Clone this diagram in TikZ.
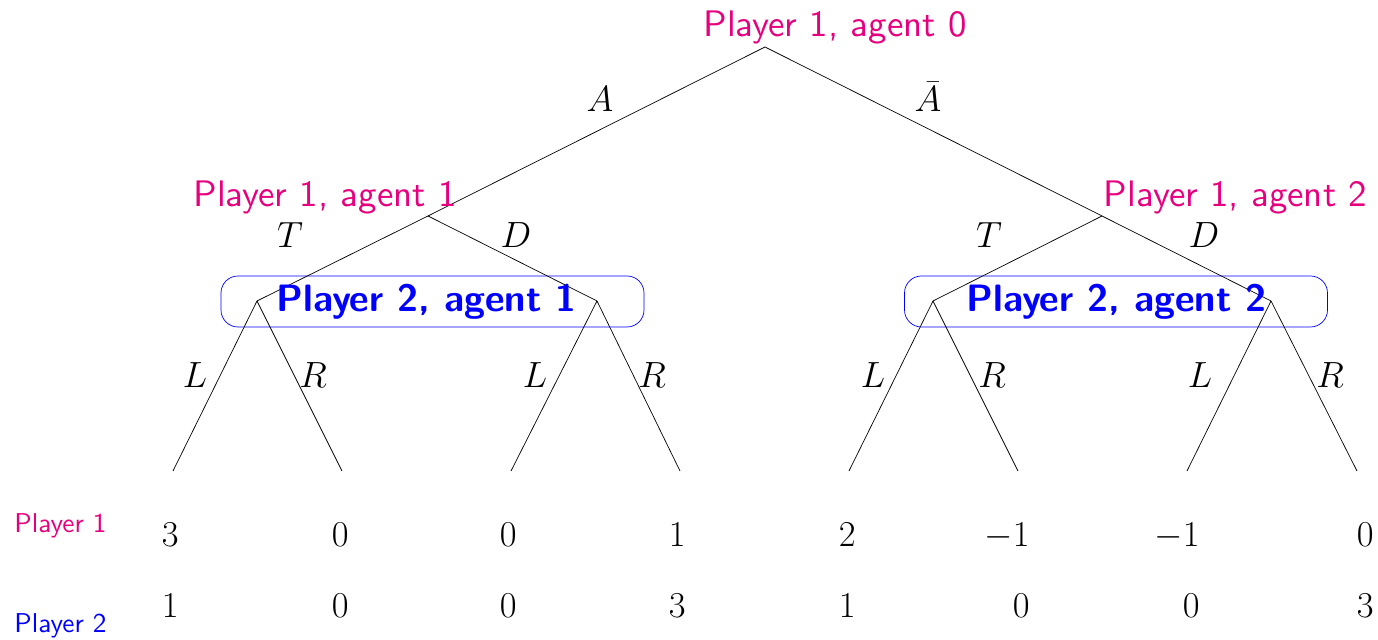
\documentclass[tikz,border=0pt]{standalone}
\usepackage{fontspec}
\setsansfont{lmsans10-regular.otf}[BoldFont=lmsans10-bold.otf]
\usepackage{tikz}
\definecolor{AgentPink}{HTML}{E6007E}
\definecolor{AgentBlue}{HTML}{0000FF}
\tikzset{agentlab/.style={text=AgentPink,font=\fontsize{21}{25}\sffamily,inner sep=0pt,anchor=base},
  movelab/.style={font=\fontsize{21}{25}\selectfont,inner sep=0pt,anchor=base},
  infoset/.style={draw=AgentBlue,rounded corners=0.34cm,minimum width=8.46cm,minimum height=1.02cm,inner sep=0pt},
  setlab/.style={text=AgentBlue,font=\fontsize{21.7}{25}\sffamily\bfseries,inner sep=0pt,anchor=base},
  payoff/.style={font=\fontsize{21}{25}\selectfont,inner sep=0pt,anchor=base east},
  rowlab/.style={font=\fontsize{15.5}{18}\sffamily,inner sep=0pt,anchor=base west}}

\begin{document}
\begin{tikzpicture}[x=1cm,y=1cm]
\useasboundingbox (0,0) rectangle (27.56,12.8);
% information sets of player 2
\node[infoset] (set1) at (8.65,6.77) {};
\node[infoset] (set2) at (22.32,6.77) {};
% tree
\coordinate (root) at (15.30,11.86);
\coordinate (a1) at (8.56,8.48); \coordinate (a2) at (22.04,8.48);
\coordinate (b1) at (5.14,6.78); \coordinate (b2) at (11.94,6.78);
\coordinate (b3) at (18.66,6.78); \coordinate (b4) at (25.42,6.78);
\foreach \x [count=\i] in {3.46,6.84,10.22,13.60,16.98,20.36,23.74,27.14}
  \coordinate (z\i) at (\x,3.38);
\draw (root)--(a1); \draw (root)--(a2);
\draw (a1)--(b1); \draw (a1)--(b2); \draw (a2)--(b3); \draw (a2)--(b4);
\draw (b1)--(z1); \draw (b1)--(z2); \draw (b2)--(z3); \draw (b2)--(z4);
\draw (b3)--(z5); \draw (b3)--(z6); \draw (b4)--(z7); \draw (b4)--(z8);
% players
\node[agentlab] (ag0) at (16.70,12.06) {Player 1, agent 0};
\node[agentlab] (ag1) at (6.50,8.66) {Player 1, agent 1};
\node[agentlab] (ag2) at (24.71,8.66) {Player 1, agent 2};
\node[setlab] (sl1) at (8.53,6.56) {Player 2, agent 1};
\node[setlab] (sl2) at (22.33,6.56) {Player 2, agent 2};
% moves
\node[movelab] (mA) at (12.00,10.56) {$A$};
\node[movelab] (mAb) at (18.56,10.56) {$\bar{A}$};
\node[movelab] (mT1) at (5.80,7.84) {$T$};
\node[movelab] (mD1) at (10.32,7.84) {$D$};
\node[movelab] (mT2) at (19.78,7.84) {$T$};
\node[movelab] (mD2) at (24.08,7.84) {$D$};
\foreach \l/\r [count=\i] in {3.90/6.26,10.70/13.04,17.46/19.84,24.00/26.60}{
  \node[movelab] (mL\i) at (\l,5.04) {$L$};
  \node[movelab] (mR\i) at (\r,5.04) {$R$};}
% payoffs
\node[rowlab,text=AgentPink] (row1) at (0.28,2.14) {Player 1};
\node[rowlab,text=AgentBlue] (row2) at (0.28,0.14) {Player 2};
\foreach \x/\u/\v [count=\i] in {3.58/3/1,6.98/0/0,10.34/0/0,13.72/1/3,17.12/2/1,20.60/-1/0,24.00/-1/0,27.48/0/3}{
  \node[payoff] (u\i) at (\x,1.86) {$\u$};
  \node[payoff] (v\i) at (\x,0.44) {$\v$};}
\end{tikzpicture}
\end{document}
